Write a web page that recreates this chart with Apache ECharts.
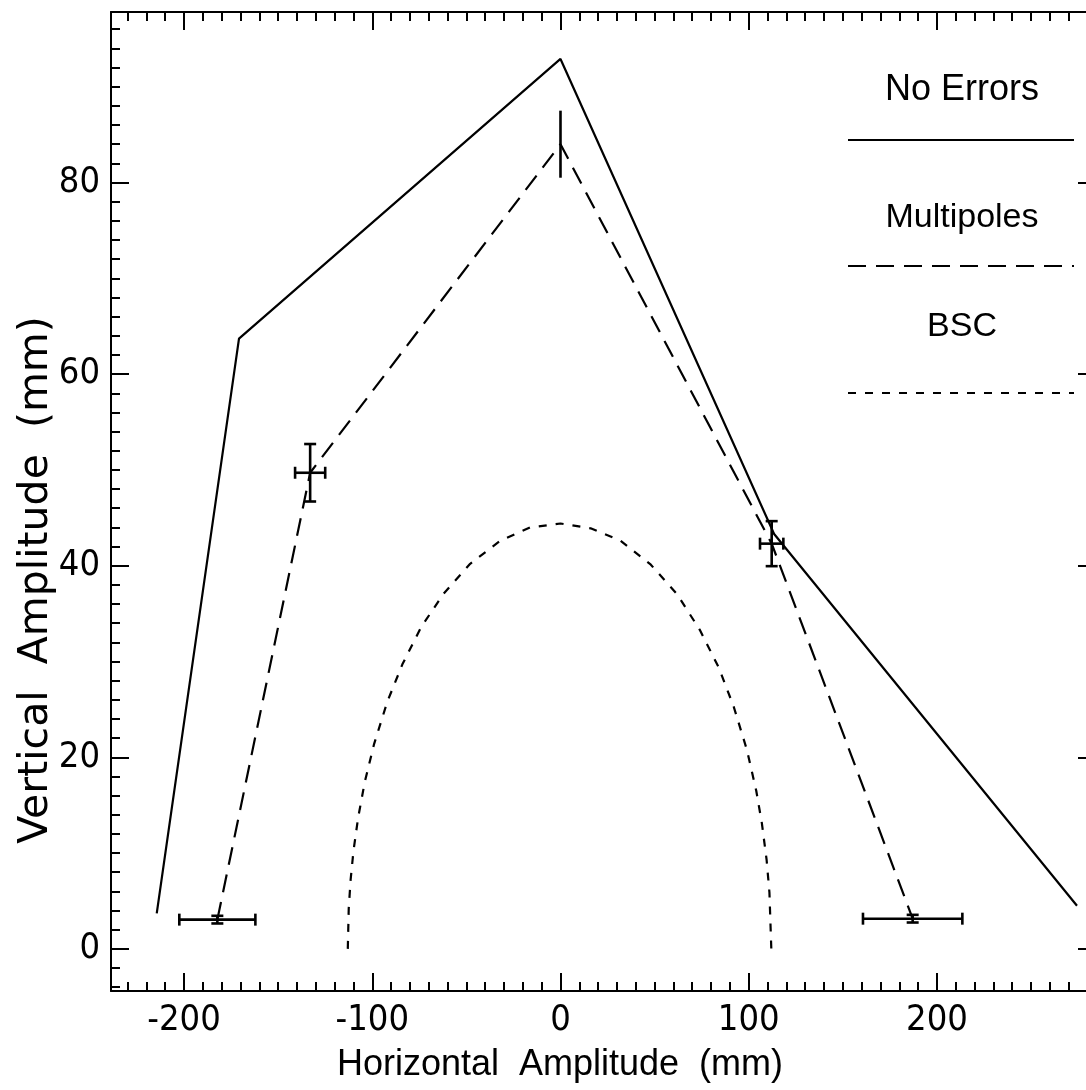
<!DOCTYPE html>
<html>
<head>
<meta charset="utf-8">
<script src="https://cdn.jsdelivr.net/npm/echarts@6/dist/echarts.min.js"></script>
<style>
html,body{margin:0;padding:0;background:#fff;}
#chart{width:1086px;height:1090px;}
</style>
</head>
<body>
<div id="chart"></div>
<script>
// ---- data ----
const noErrX = [-214.5, -170.8, 0, 113.5, 274.4];
const noErrY = [3.7, 63.7, 92.9, 43.3, 4.5];

const multX = [-182.3, -133, 0, 112.2, 187.1];
const multY = [3.05, 49.7, 84.0, 42.3, 3.15];
const multXErr = [20.2, 8, 0, 6.2, 26.4];
const multYErr = [0.4, 3.0, 3.5, 2.35, 0.4];

const bscX = [-113, -112.5, -111.5, -110, -107.5, -104, -99, -92, -84, -74, -62, -48, -32, -16, 0,
              16, 32, 48, 62, 74, 84, 92, 99, 104, 107, 109.5, 111, 112];
const bscY = [0, 4.2, 7.2, 10.2, 13.7, 17.4, 21.4, 25.8, 29.7, 33.6, 37.1, 40.2, 42.6, 44.0, 44.4,
              43.9, 42.6, 40.1, 37.0, 33.3, 29.4, 25.3, 20.8, 16.5, 13.1, 9.3, 5.9, 0];

const xMajorTicks = [-200, -100, 0, 100, 200];
const xMinorTicks = [];
for (let v = -230; v <= 280; v += 10) xMinorTicks.push(v);
const yMajorTicks = [0, 20, 40, 60, 80];
const yMinorTicks = [];
for (let v = -4; v <= 96; v += 2) yMinorTicks.push(v);

const legendNames = ['No Errors', 'Multipoles', 'BSC'];
const xName = 'Horizontal  Amplitude  (mm)';
const yName = 'Vertical  Amplitude  (mm)';

// ---- chart ----
const X_MIN = -238.8, X_MAX = 284.5, Y_MIN = -4.4, Y_MAX = 97.8;
const tickFont = "'DejaVu Sans Condensed', 'Liberation Sans', sans-serif";
const lblFont = "'Liberation Sans', sans-serif";
const black = '#000';

function zip(a, b) { return a.map((v, i) => [v, b[i]]); }

function mkX(position, ticks, len, showLine, showLabel) {
  return {
    type: 'value', min: X_MIN, max: X_MAX, position: position,
    axisLine: { show: showLine, onZero: false, lineStyle: { color: black, width: 2 } },
    axisTick: { show: true, inside: true, length: len, customValues: ticks, lineStyle: { color: black, width: 2 } },
    axisLabel: { show: showLabel, customValues: ticks, margin: 12, color: black, fontSize: 36, fontFamily: tickFont },
    splitLine: { show: false }
  };
}
function mkY(position, ticks, len, showLine, showLabel) {
  return {
    type: 'value', min: Y_MIN, max: Y_MAX, position: position,
    axisLine: { show: showLine, onZero: false, lineStyle: { color: black, width: 2 } },
    axisTick: { show: true, inside: true, length: len, customValues: ticks, lineStyle: { color: black, width: 2 } },
    axisLabel: { show: showLabel, customValues: ticks, margin: 11, color: black, fontSize: 36, fontFamily: tickFont },
    splitLine: { show: false }
  };
}

const chart = echarts.init(document.getElementById('chart'), null, { renderer: 'canvas' });

const errData = multX.map((x, i) => [x, multY[i], multXErr[i], multYErr[i]]);

const option = {
  backgroundColor: '#fff',
  animation: false,
  grid: { left: 111, top: 12, width: 985, height: 979, containLabel: false, outerBoundsMode: 'none' },
  xAxis: [
    mkX('bottom', xMajorTicks, 18, true, true),
    mkX('bottom', xMinorTicks, 9, false, false),
    mkX('top', xMajorTicks, 18, true, false),
    mkX('top', xMinorTicks, 9, false, false)
  ],
  yAxis: [
    mkY('left', yMajorTicks, 18, true, true),
    mkY('left', yMinorTicks, 9, false, false),
    mkY('right', yMajorTicks, 18, true, false),
    mkY('right', yMinorTicks, 9, false, false)
  ],
  series: [
    {
      name: legendNames[0], type: 'line', data: zip(noErrX, noErrY), symbol: 'none',
      lineStyle: { color: black, width: 2.2, type: 'solid' }, z: 3
    },
    {
      name: legendNames[1], type: 'line', data: zip(multX, multY), symbol: 'none',
      lineStyle: { color: black, width: 2.2, type: [18, 10] }, z: 3
    },
    {
      name: legendNames[2], type: 'line', data: zip(bscX, bscY), symbol: 'none',
      lineStyle: { color: black, width: 2.2, type: [8, 9] }, z: 3
    },
    {
      name: 'errors', type: 'custom', data: errData, z: 4,
      renderItem: function (params, api) {
        const x = api.value(0), y = api.value(1), ex = api.value(2), ey = api.value(3);
        const cap = 6;
        const st = { stroke: black, lineWidth: 2.6 };
        const ch = [];
        if (ex > 0) {
          const l = api.coord([x - ex, y]), r = api.coord([x + ex, y]);
          ch.push({ type: 'line', shape: { x1: l[0], y1: l[1], x2: r[0], y2: r[1] }, style: st });
          ch.push({ type: 'line', shape: { x1: l[0], y1: l[1] - cap, x2: l[0], y2: l[1] + cap }, style: st });
          ch.push({ type: 'line', shape: { x1: r[0], y1: r[1] - cap, x2: r[0], y2: r[1] + cap }, style: st });
        }
        if (ey > 0) {
          const t = api.coord([x, y + ey]), b = api.coord([x, y - ey]);
          ch.push({ type: 'line', shape: { x1: t[0], y1: t[1], x2: b[0], y2: b[1] }, style: st });
          if (ex > 0) {
            ch.push({ type: 'line', shape: { x1: t[0] - cap, y1: t[1], x2: t[0] + cap, y2: t[1] }, style: st });
            ch.push({ type: 'line', shape: { x1: b[0] - cap, y1: b[1], x2: b[0] + cap, y2: b[1] }, style: st });
          }
        }
        return { type: 'group', children: ch };
      }
    }
  ],
  graphic: [
    { type: 'text', x: 560, y: 1065, z: 10, style: { text: xName, align: 'center', verticalAlign: 'middle', font: "36px " + lblFont, fill: black } },
    { type: 'text', x: 36, y: 580, rotation: Math.PI / 2, z: 10, style: { text: yName, align: 'center', verticalAlign: 'middle', font: "41px 'DejaVu Sans', sans-serif", fill: black } },
    { type: 'text', x: 962, y: 90, style: { text: legendNames[0], align: 'center', verticalAlign: 'middle', font: "36px " + lblFont, fill: black } },
    { type: 'line', shape: { x1: 848, y1: 140, x2: 1074, y2: 140 }, style: { stroke: black, lineWidth: 2.2 } },
    { type: 'text', x: 962, y: 218, style: { text: legendNames[1], align: 'center', verticalAlign: 'middle', font: "34px " + lblFont, fill: black } },
    { type: 'line', shape: { x1: 848, y1: 266, x2: 1074, y2: 266 }, style: { stroke: black, lineWidth: 2.2, lineDash: [18, 10] } },
    { type: 'text', x: 962, y: 327, style: { text: legendNames[2], align: 'center', verticalAlign: 'middle', font: "34px " + lblFont, fill: black } },
    { type: 'line', shape: { x1: 848, y1: 393, x2: 1074, y2: 393 }, style: { stroke: black, lineWidth: 2.2, lineDash: [8, 9] } }
  ]
};
chart.setOption(option);
</script>
</body>
</html>
